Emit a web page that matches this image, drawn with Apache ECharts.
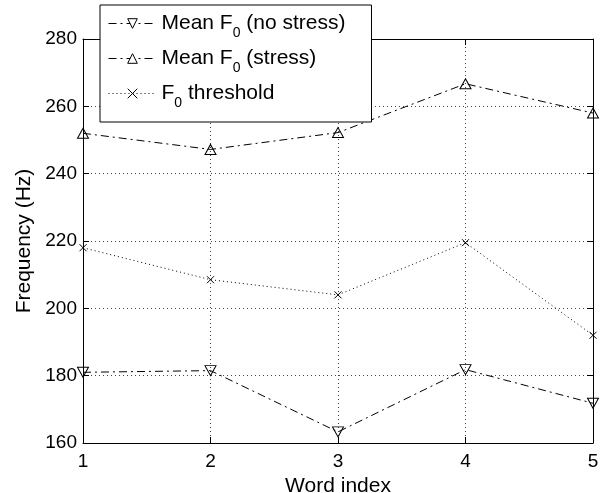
<!DOCTYPE html>
<html>
<head>
<meta charset="utf-8">
<script src="https://cdn.jsdelivr.net/npm/echarts@6/dist/echarts.min.js"></script>
<style>
  html, body { margin: 0; padding: 0; background: #fff; }
  #main { width: 601px; height: 493px; }
</style>
</head>
<body>
<div id="main"></div>
<script>
// word index on the x axis
var wordIndex = [1, 2, 3, 4, 5];
// mean F0 without stress (Hz)
var meanNoStress = [181, 181.5, 163.3, 181.8, 171.8];
// mean F0 with stress (Hz)
var meanStress = [252, 247.2, 252.2, 266.7, 258];
// F0 threshold (Hz)
var threshold = [218, 208.5, 204, 219.5, 192];

var xTicks = { min: 1, max: 5, interval: 1 };
var yTicks = { min: 160, max: 280, interval: 20 };

var FONT = '"Liberation Sans", Arial, Helvetica, sans-serif';

function pairs(ys) {
  var out = [];
  for (var i = 0; i < wordIndex.length; i++) {
    out.push([wordIndex[i], ys[i]]);
  }
  return out;
}

var legendText = {
  'Mean F0 (no stress)': 'Mean F{s|0} (no stress)',
  'Mean F0 (stress)': 'Mean F{s|0} (stress)',
  'F0 threshold': 'F{s|0} threshold'
};

var baseAxisLine = { show: true, lineStyle: { color: '#000', width: 1 } };
var tick = { show: true, inside: true, length: 6, lineStyle: { color: '#000' } };
var grid = { show: true, lineStyle: { color: '#444', type: [1, 3], width: 1 } };

var chart = echarts.init(document.getElementById('main'));

var option = {
  animation: false,
  backgroundColor: '#fff',
  grid: { left: 83, right: 8, top: 39, bottom: 50, containLabel: false, outerBoundsMode: 'none' },
  legend: {
    orient: 'vertical',
    left: 100,
    top: 5,
    padding: [2, 26, 12, 8],
    itemGap: 2,
    itemWidth: 48,
    itemHeight: 12,
    backgroundColor: '#fff',
    borderColor: '#000',
    borderWidth: 1,
    borderRadius: 0,
    lineStyle: { width: 1 },
    itemStyle: { color: '#fff', borderColor: '#000', borderWidth: 1 },
    formatter: function (name) { return legendText[name]; },
    textStyle: {
      fontSize: 21,
      fontFamily: FONT,
      color: '#000',
      lineHeight: 33,
      rich: {
        s: { fontSize: 14, fontFamily: FONT, color: '#000', lineHeight: 14, verticalAlign: 'bottom' }
      }
    },
    data: ['Mean F0 (no stress)', 'Mean F0 (stress)', 'F0 threshold']
  },
  xAxis: [
    {
      type: 'value',
      min: xTicks.min, max: xTicks.max, interval: xTicks.interval,
      name: 'Word index',
      nameLocation: 'middle',
      nameGap: 30,
      nameTextStyle: { fontSize: 21, fontFamily: FONT, color: '#000' },
      axisLine: baseAxisLine,
      axisTick: tick,
      splitLine: grid,
      axisLabel: { fontSize: 19, fontFamily: FONT, color: '#000', margin: 9 }
    },
    {
      type: 'value', position: 'top',
      min: xTicks.min, max: xTicks.max, interval: xTicks.interval,
      axisLine: baseAxisLine, axisTick: tick,
      splitLine: { show: false }, axisLabel: { show: false }
    }
  ],
  yAxis: [
    {
      type: 'value',
      min: yTicks.min, max: yTicks.max, interval: yTicks.interval,
      name: 'Frequency (Hz)',
      nameLocation: 'middle',
      nameRotate: 90,
      nameGap: 46,
      nameTextStyle: { fontSize: 21, fontFamily: FONT, color: '#000' },
      axisLine: baseAxisLine,
      axisTick: tick,
      splitLine: grid,
      axisLabel: { fontSize: 19, fontFamily: FONT, color: '#000', margin: 6 }
    },
    {
      type: 'value', position: 'right',
      min: yTicks.min, max: yTicks.max, interval: yTicks.interval,
      axisLine: baseAxisLine, axisTick: tick,
      splitLine: { show: false }, axisLabel: { show: false }
    }
  ],
  series: [
    {
      name: 'Mean F0 (no stress)',
      type: 'line',
      data: pairs(meanNoStress),
      symbol: 'triangle',
      symbolRotate: 180,
      symbolSize: [11, 10],
      showAllSymbol: true,
      lineStyle: { color: '#000', width: 1, type: [8, 4, 2, 4] },
      itemStyle: { color: 'rgba(0,0,0,0)', borderColor: '#000', borderWidth: 1 },
      z: 3
    },
    {
      name: 'Mean F0 (stress)',
      type: 'line',
      data: pairs(meanStress),
      symbol: 'triangle',
      symbolSize: [11, 10],
      showAllSymbol: true,
      lineStyle: { color: '#000', width: 1, type: [8, 4, 2, 4] },
      itemStyle: { color: 'rgba(0,0,0,0)', borderColor: '#000', borderWidth: 1 },
      z: 3
    },
    {
      name: 'F0 threshold',
      type: 'line',
      data: pairs(threshold),
      symbol: 'path://M0,0L10,10M10,0L0,10',
      symbolSize: 7,
      showAllSymbol: true,
      lineStyle: { color: '#000', width: 1, type: [1, 3] },
      itemStyle: { color: 'rgba(0,0,0,0)', borderColor: '#000', borderWidth: 1 },
      z: 3
    }
  ]
};

chart.setOption(option);
</script>
</body>
</html>
